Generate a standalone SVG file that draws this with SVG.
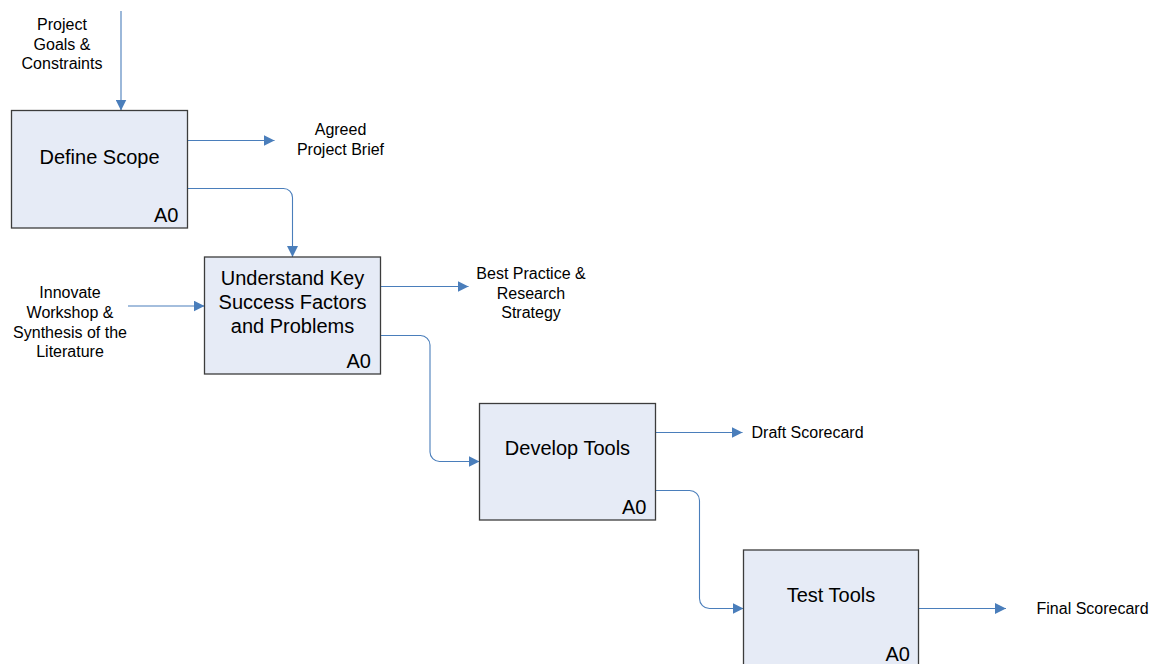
<svg xmlns="http://www.w3.org/2000/svg" width="1157" height="664" viewBox="0 0 1157 664">
  <defs>
    <marker id="arrow" markerUnits="userSpaceOnUse" markerWidth="11" markerHeight="11" refX="11" refY="5.5" orient="auto">
      <path d="M0,0 L11,5.5 L0,11 Z" fill="#4a7ebb"/>
    </marker>
    <style>
      .box { fill: #e6ebf6; stroke: #3c3c3c; stroke-width: 1.3; }
      .title { font-family: "Liberation Sans", Arial, sans-serif; font-size: 20px; fill: #000; text-anchor: middle; }
      .code { font-family: "Liberation Sans", Arial, sans-serif; font-size: 20px; fill: #000; text-anchor: end; }
      .label { font-family: "Liberation Sans", Arial, sans-serif; font-size: 16px; fill: #000; text-anchor: middle; }
      .label-start { font-family: "Liberation Sans", Arial, sans-serif; font-size: 16px; fill: #000; text-anchor: start; }
      .flow { fill: none; stroke: #4a7ebb; stroke-width: 1.1; marker-end: url(#arrow); }
    </style>
  </defs>
  <rect width="1157" height="664" fill="#ffffff"/>

  <!-- connectors -->
  <g id="connectors">
    <path class="flow" d="M121,11 V110.5"/>
    <path class="flow" d="M187.5,140.5 H274.5"/>
    <path class="flow" d="M187.5,188.5 H283.5 A9,9 0 0 1 292.5,197.5 V257"/>
    <path class="flow" d="M128,306 H204.5"/>
    <path class="flow" d="M380.5,286.5 H468.5"/>
    <path class="flow" d="M380.5,335.5 H420.5 A9.5,9.5 0 0 1 430,345 V452 A9.5,9.5 0 0 0 439.5,461.5 H479.5"/>
    <path class="flow" d="M655.5,432.5 H742.5"/>
    <path class="flow" d="M655.5,490.5 H689.5 A10,10 0 0 1 699.5,500.5 V598.5 A10,10 0 0 0 709.5,608.5 H743.5"/>
    <path class="flow" d="M918.5,608.5 H1006"/>
  </g>

  <!-- process boxes -->
  <g id="define-scope">
    <rect class="box" x="11.5" y="110.5" width="176" height="117.5"/>
    <text class="title" x="99.5" y="163.5">Define Scope</text>
    <text class="code" x="178.5" y="221.5">A0</text>
  </g>

  <g id="understand-factors">
    <rect class="box" x="204.5" y="257" width="176" height="117"/>
    <text class="title" x="292.5" y="285">Understand Key</text>
    <text class="title" x="292.5" y="309">Success Factors</text>
    <text class="title" x="292.5" y="333">and Problems</text>
    <text class="code" x="371" y="367.5">A0</text>
  </g>

  <g id="develop-tools">
    <rect class="box" x="479.5" y="403.5" width="176" height="116.5"/>
    <text class="title" x="567.5" y="455">Develop Tools</text>
    <text class="code" x="646.5" y="513.5">A0</text>
  </g>

  <g id="test-tools">
    <rect class="box" x="743.5" y="550" width="175" height="120"/>
    <text class="title" x="831" y="601.5">Test Tools</text>
    <text class="code" x="910" y="660.5">A0</text>
  </g>

  <!-- inputs and outputs -->
  <g id="label-goals">
    <text class="label" x="62" y="30">Project</text>
    <text class="label" x="62" y="49.5">Goals &amp;</text>
    <text class="label" x="62" y="69">Constraints</text>
  </g>

  <g id="label-brief">
    <text class="label" x="340.5" y="135">Agreed</text>
    <text class="label" x="340.5" y="154.5">Project Brief</text>
  </g>

  <g id="label-workshop">
    <text class="label" x="70" y="298">Innovate</text>
    <text class="label" x="70" y="318">Workshop &amp;</text>
    <text class="label" x="70" y="337.5">Synthesis of the</text>
    <text class="label" x="70" y="357">Literature</text>
  </g>

  <g id="label-practice">
    <text class="label" x="531" y="278.5">Best Practice &amp;</text>
    <text class="label" x="531" y="298.5">Research</text>
    <text class="label" x="531" y="318">Strategy</text>
  </g>

  <g id="label-draft">
    <text class="label-start" x="751.5" y="437.5">Draft Scorecard</text>
  </g>

  <g id="label-final">
    <text class="label-start" x="1036.5" y="613.5">Final Scorecard</text>
  </g>
</svg>
